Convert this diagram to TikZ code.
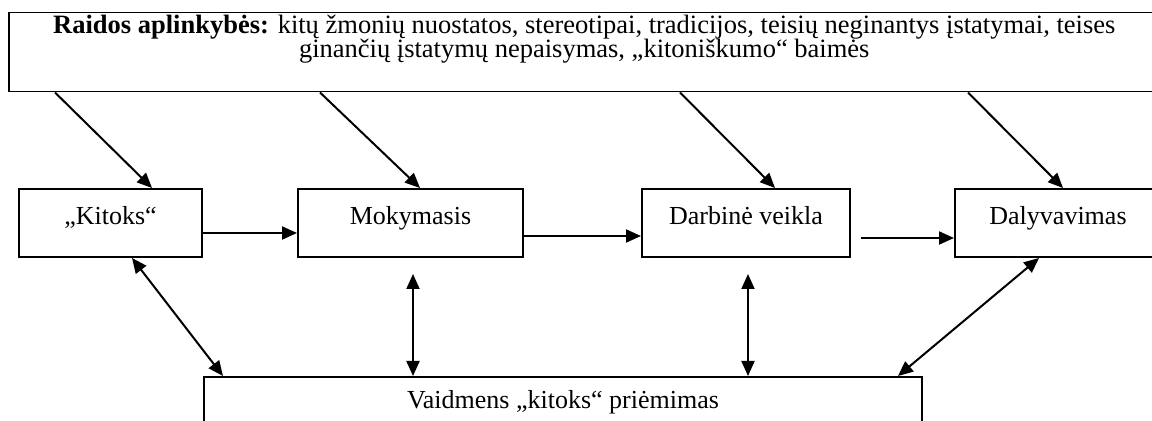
\documentclass[tikz,border=0pt]{standalone}
\usepackage{fontspec}
\setmainfont{Liberation Serif}
\usetikzlibrary{arrows.meta}

\lineskiplimit=-20pt

\tikzset{
  env/.style={draw, line width=0.75pt, inner xsep=0pt, inner ysep=0pt, align=center,
    minimum width=575.5pt, text height=22.5pt, text depth=17pt,
    font=\fontsize{13.25}{10.25}\selectfont},
  stage/.style={draw, line width=1pt, inner xsep=0pt, inner ysep=0pt,
    text height=18pt, text depth=16pt, font=\fontsize{13}{15}\selectfont},
  role/.style={draw, line width=1pt, inner xsep=0pt, inner ysep=0pt,
    minimum width=359pt, text height=16pt, text depth=21pt,
    font=\fontsize{13}{15}\selectfont},
  arr/.style={line width=1pt, -{Triangle[length=7.5pt,width=6.5pt]}},
  darr/.style={line width=1pt, {Triangle[length=7.5pt,width=6.5pt]}-{Triangle[length=7.5pt,width=6.5pt]}}
}

\begin{document}
\begin{tikzpicture}[x=0.5pt, y=-0.5pt]

  \useasboundingbox (0,0) rectangle (1152,421);

  % Top box: raidos aplinkybes
  \node[env, anchor=north west] (env) at (8,12)
    {\textbf{Raidos aplinkybės:} kitų žmonių nuostatos, stereotipai, tradicijos, teisių neginantys įstatymai, teises\\[1.75pt]
     ginančių įstatymų nepaisymas, „kitoniškumo“ baimės};

  % Middle row
  \node[stage, anchor=north west, minimum width=91.5pt] (kitoks) at (18,188) {„Kitoks“};
  \node[stage, anchor=north west, minimum width=112.5pt] (mokym) at (297,188) {Mokymasis};
  \node[stage, anchor=north west, minimum width=104pt] (darb) at (641,188) {Darbinė veikla};
  \node[stage, anchor=north west, minimum width=103pt] (daly) at (954,188) {Dalyvavimas};

  % Bottom box
  \node[role, anchor=north west] (priem) at (203,376) {Vaidmens „kitoks“ priėmimas};

  % Arrows from the top box
  \draw[arr] ([xshift=23.5pt]env.south west) -- ([xshift=67pt]kitoks.north west);
  \draw[arr] ([xshift=156pt]env.south west) -- ([xshift=61.5pt]mokym.north west);
  \draw[arr] ([xshift=336pt]env.south west) -- ([xshift=67pt]darb.north west);
  \draw[arr] ([xshift=480pt]env.south west) -- ([xshift=54.5pt]daly.north west);

  % Arrows along the row
  \draw[arr] ([yshift=-5pt]kitoks.east) -- ([yshift=-5pt]mokym.west);
  \draw[arr] ([yshift=-6.5pt]mokym.east) -- ([yshift=-6.5pt]darb.west);
  \draw[arr] ([xshift=5pt,yshift=-7.5pt]darb.east) -- ([yshift=-7.5pt]daly.west);

  % Two-way arrows to the bottom box
  \draw[darr] ([xshift=57pt]kitoks.south west) -- ([xshift=10pt]priem.north west);
  \draw[darr] ([xshift=58pt,yshift=-8pt]mokym.south west) -- ([xshift=105pt]priem.north west);
  \draw[darr] ([xshift=53.5pt,yshift=-8pt]darb.south west) -- ([xshift=272.5pt]priem.north west);
  \draw[darr] ([xshift=42.5pt]daly.south west) -- ([xshift=347.5pt]priem.north west);

\end{tikzpicture}
\end{document}
